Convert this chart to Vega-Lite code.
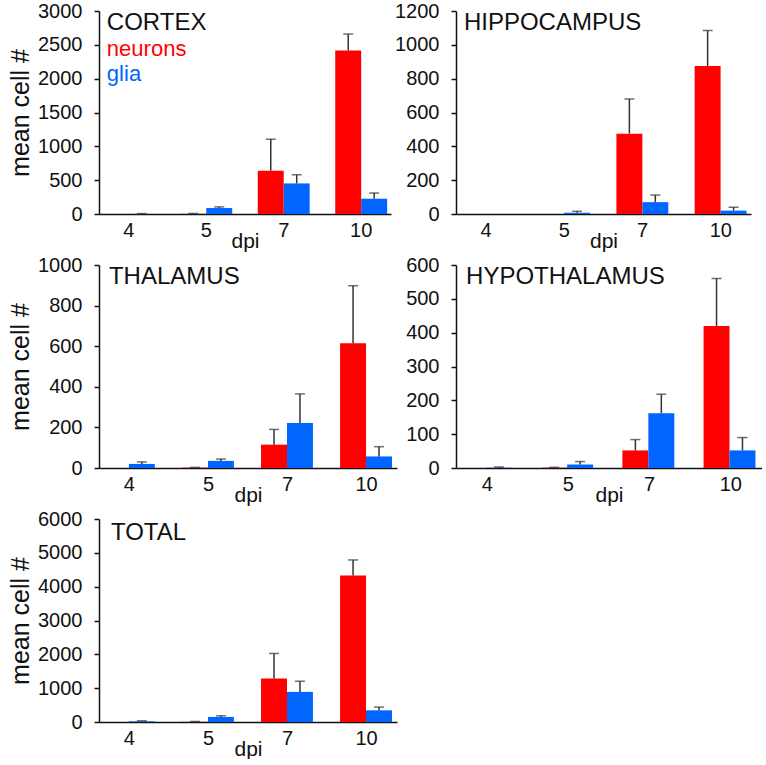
{
  "$schema": "https://vega.github.io/schema/vega-lite/v6.json",
  "padding": {"left": 8, "top": 1, "right": 0, "bottom": 0},
  "background": "white",
  "config": {
    "font": "Liberation Sans",
    "view": {"stroke": null},
    "axis": {
      "grid": false,
      "domainColor": "#111",
      "domainWidth": 1.5,
      "tickColor": "#111",
      "tickWidth": 1.5,
      "labelColor": "#111",
      "titleColor": "#111",
      "labelFont": "Liberation Sans",
      "titleFont": "Liberation Sans",
      "titleFontWeight": "normal"
    },
    "axisX": {"ticks": false, "labelAngle": 0, "labelFontSize": 20, "labelPadding": 6, "titleFontSize": 21, "titlePadding": -10},
    "axisY": {"tickSize": 5, "labelFontSize": 20, "labelPadding": 12, "titleFontSize": 25, "titlePadding": 4, "labelOverlap": false}
  },
  "datasets": {
    "cells": [
      {"region": "CORTEX", "dpi": "4", "cell": "neurons", "mean": 0, "upper": null},
      {"region": "CORTEX", "dpi": "4", "cell": "glia", "mean": 1, "upper": 6},
      {"region": "CORTEX", "dpi": "5", "cell": "neurons", "mean": 2, "upper": 8},
      {"region": "CORTEX", "dpi": "5", "cell": "glia", "mean": 88, "upper": 105},
      {"region": "CORTEX", "dpi": "7", "cell": "neurons", "mean": 640, "upper": 1105},
      {"region": "CORTEX", "dpi": "7", "cell": "glia", "mean": 452, "upper": 580},
      {"region": "CORTEX", "dpi": "10", "cell": "neurons", "mean": 2415, "upper": 2660},
      {"region": "CORTEX", "dpi": "10", "cell": "glia", "mean": 226, "upper": 310},
      {"region": "HIPPOCAMPUS", "dpi": "4", "cell": "neurons", "mean": 0, "upper": null},
      {"region": "HIPPOCAMPUS", "dpi": "4", "cell": "glia", "mean": 0, "upper": null},
      {"region": "HIPPOCAMPUS", "dpi": "5", "cell": "neurons", "mean": 0, "upper": null},
      {"region": "HIPPOCAMPUS", "dpi": "5", "cell": "glia", "mean": 8, "upper": 16},
      {"region": "HIPPOCAMPUS", "dpi": "7", "cell": "neurons", "mean": 475, "upper": 680},
      {"region": "HIPPOCAMPUS", "dpi": "7", "cell": "glia", "mean": 70, "upper": 112},
      {"region": "HIPPOCAMPUS", "dpi": "10", "cell": "neurons", "mean": 875, "upper": 1085},
      {"region": "HIPPOCAMPUS", "dpi": "10", "cell": "glia", "mean": 20, "upper": 40},
      {"region": "THALAMUS", "dpi": "4", "cell": "neurons", "mean": 0, "upper": null},
      {"region": "THALAMUS", "dpi": "4", "cell": "glia", "mean": 20, "upper": 30},
      {"region": "THALAMUS", "dpi": "5", "cell": "neurons", "mean": 2, "upper": 3},
      {"region": "THALAMUS", "dpi": "5", "cell": "glia", "mean": 35, "upper": 44},
      {"region": "THALAMUS", "dpi": "7", "cell": "neurons", "mean": 115, "upper": 190},
      {"region": "THALAMUS", "dpi": "7", "cell": "glia", "mean": 222, "upper": 365},
      {"region": "THALAMUS", "dpi": "10", "cell": "neurons", "mean": 615, "upper": 898},
      {"region": "THALAMUS", "dpi": "10", "cell": "glia", "mean": 57, "upper": 105},
      {"region": "HYPOTHALAMUS", "dpi": "4", "cell": "neurons", "mean": 0, "upper": null},
      {"region": "HYPOTHALAMUS", "dpi": "4", "cell": "glia", "mean": 1, "upper": 3},
      {"region": "HYPOTHALAMUS", "dpi": "5", "cell": "neurons", "mean": 1, "upper": 2},
      {"region": "HYPOTHALAMUS", "dpi": "5", "cell": "glia", "mean": 10, "upper": 19},
      {"region": "HYPOTHALAMUS", "dpi": "7", "cell": "neurons", "mean": 52, "upper": 84},
      {"region": "HYPOTHALAMUS", "dpi": "7", "cell": "glia", "mean": 162, "upper": 218},
      {"region": "HYPOTHALAMUS", "dpi": "10", "cell": "neurons", "mean": 420, "upper": 560},
      {"region": "HYPOTHALAMUS", "dpi": "10", "cell": "glia", "mean": 52, "upper": 90},
      {"region": "TOTAL", "dpi": "4", "cell": "neurons", "mean": 0, "upper": null},
      {"region": "TOTAL", "dpi": "4", "cell": "glia", "mean": 20, "upper": 35},
      {"region": "TOTAL", "dpi": "5", "cell": "neurons", "mean": 5, "upper": 15},
      {"region": "TOTAL", "dpi": "5", "cell": "glia", "mean": 150, "upper": 185},
      {"region": "TOTAL", "dpi": "7", "cell": "neurons", "mean": 1285, "upper": 2025},
      {"region": "TOTAL", "dpi": "7", "cell": "glia", "mean": 890, "upper": 1205},
      {"region": "TOTAL", "dpi": "10", "cell": "neurons", "mean": 4330, "upper": 4790},
      {"region": "TOTAL", "dpi": "10", "cell": "glia", "mean": 345, "upper": 440}
    ]
  },
  "columns": 2,
  "spacing": {"row": 4, "column": -3},
  "align": "each",
  "resolve": {"scale": {"x": "independent", "y": "independent"}},
  "concat": [
    {
      "width": 292, "height": 203,
      "layer": [
        {
          "data": {"name": "cells"},
          "transform": [{"filter": "datum.region === 'CORTEX'"}],
          "mark": {"type": "bar"},
          "encoding": {
            "x": {"field": "dpi", "type": "ordinal", "title": "dpi", "scale": {"domain": ["4", "5", "7", "10"], "paddingInner": 0.33, "paddingOuter": 0.05}},
            "xOffset": {"field": "cell", "sort": ["neurons", "glia"]},
            "y": {"field": "mean", "type": "quantitative", "scale": {"domain": [0, 3000]}, "axis": {"values": [0, 500, 1000, 1500, 2000, 2500, 3000], "format": "d", "title": "mean cell #"}},
            "color": {"field": "cell", "scale": {"domain": ["neurons", "glia"], "range": ["#ff0000", "#0066ff"]}, "legend": null}
          }
        },
        {
          "data": {"name": "cells"},
          "transform": [{"filter": "datum.region === 'CORTEX'"}],
          "mark": {"type": "rule", "color": "#333", "strokeWidth": 1.5},
          "encoding": {
            "x": {"field": "dpi", "type": "ordinal", "title": "dpi"},
            "xOffset": {"field": "cell", "sort": ["neurons", "glia"]},
            "y": {"field": "mean", "type": "quantitative", "axis": {"values": [0, 500, 1000, 1500, 2000, 2500, 3000], "format": "d", "title": "mean cell #"}},
            "y2": {"field": "upper"}
          }
        },
        {
          "data": {"name": "cells"},
          "transform": [{"filter": "datum.region === 'CORTEX'"}],
          "mark": {"type": "tick", "color": "#333", "thickness": 1.5, "size": 10, "orient": "horizontal"},
          "encoding": {
            "x": {"field": "dpi", "type": "ordinal", "title": "dpi"},
            "xOffset": {"field": "cell", "sort": ["neurons", "glia"]},
            "y": {"field": "upper", "type": "quantitative", "axis": {"values": [0, 500, 1000, 1500, 2000, 2500, 3000], "format": "d", "title": "mean cell #"}}
          }
        },
        {
          "data": {"values": [{"label": "CORTEX"}]},
          "mark": {"type": "text", "align": "left", "baseline": "alphabetic", "fontSize": 24, "dx": 4, "dy": 19, "color": "#111"},
          "encoding": {"x": {"datum": "4", "type": "ordinal", "bandPosition": 0, "title": "dpi"}, "y": {"datum": 3000, "type": "quantitative", "axis": {"values": [0, 500, 1000, 1500, 2000, 2500, 3000], "format": "d", "title": "mean cell #"}}, "text": {"field": "label"}}
        },
        {
          "data": {"values": [{"label": "neurons"}]},
          "mark": {"type": "text", "align": "left", "baseline": "alphabetic", "fontSize": 22, "dx": 4, "dy": 45, "color": "#ff0000"},
          "encoding": {"x": {"datum": "4", "type": "ordinal", "bandPosition": 0, "title": "dpi"}, "y": {"datum": 3000, "type": "quantitative", "axis": {"values": [0, 500, 1000, 1500, 2000, 2500, 3000], "format": "d", "title": "mean cell #"}}, "text": {"field": "label"}}
        },
        {
          "data": {"values": [{"label": "glia"}]},
          "mark": {"type": "text", "align": "left", "baseline": "alphabetic", "fontSize": 22, "dx": 4, "dy": 70, "color": "#0066ff"},
          "encoding": {"x": {"datum": "4", "type": "ordinal", "bandPosition": 0, "title": "dpi"}, "y": {"datum": 3000, "type": "quantitative", "axis": {"values": [0, 500, 1000, 1500, 2000, 2500, 3000], "format": "d", "title": "mean cell #"}}, "text": {"field": "label"}}
        }
      ]
    },
    {
      "width": 295, "height": 203,
      "layer": [
        {
          "data": {"name": "cells"},
          "transform": [{"filter": "datum.region === 'HIPPOCAMPUS'"}],
          "mark": {"type": "bar"},
          "encoding": {
            "x": {"field": "dpi", "type": "ordinal", "title": "dpi", "scale": {"domain": ["4", "5", "7", "10"], "paddingInner": 0.33, "paddingOuter": 0.05}},
            "xOffset": {"field": "cell", "sort": ["neurons", "glia"]},
            "y": {"field": "mean", "type": "quantitative", "scale": {"domain": [0, 1200]}, "axis": {"values": [0, 200, 400, 600, 800, 1000, 1200], "format": "d", "title": null}},
            "color": {"field": "cell", "scale": {"domain": ["neurons", "glia"], "range": ["#ff0000", "#0066ff"]}, "legend": null}
          }
        },
        {
          "data": {"name": "cells"},
          "transform": [{"filter": "datum.region === 'HIPPOCAMPUS'"}],
          "mark": {"type": "rule", "color": "#333", "strokeWidth": 1.5},
          "encoding": {
            "x": {"field": "dpi", "type": "ordinal", "title": "dpi"},
            "xOffset": {"field": "cell", "sort": ["neurons", "glia"]},
            "y": {"field": "mean", "type": "quantitative", "axis": {"values": [0, 200, 400, 600, 800, 1000, 1200], "format": "d", "title": null}},
            "y2": {"field": "upper"}
          }
        },
        {
          "data": {"name": "cells"},
          "transform": [{"filter": "datum.region === 'HIPPOCAMPUS'"}],
          "mark": {"type": "tick", "color": "#333", "thickness": 1.5, "size": 10, "orient": "horizontal"},
          "encoding": {
            "x": {"field": "dpi", "type": "ordinal", "title": "dpi"},
            "xOffset": {"field": "cell", "sort": ["neurons", "glia"]},
            "y": {"field": "upper", "type": "quantitative", "axis": {"values": [0, 200, 400, 600, 800, 1000, 1200], "format": "d", "title": null}}
          }
        },
        {
          "data": {"values": [{"label": "HIPPOCAMPUS"}]},
          "mark": {"type": "text", "align": "left", "baseline": "alphabetic", "fontSize": 24, "dx": 4, "dy": 19, "color": "#111"},
          "encoding": {"x": {"datum": "4", "type": "ordinal", "bandPosition": 0, "title": "dpi"}, "y": {"datum": 1200, "type": "quantitative", "axis": {"values": [0, 200, 400, 600, 800, 1000, 1200], "format": "d", "title": null}}, "text": {"field": "label"}}
        }
      ]
    },
    {
      "width": 298, "height": 203,
      "layer": [
        {
          "data": {"name": "cells"},
          "transform": [{"filter": "datum.region === 'THALAMUS'"}],
          "mark": {"type": "bar"},
          "encoding": {
            "x": {"field": "dpi", "type": "ordinal", "title": "dpi", "scale": {"domain": ["4", "5", "7", "10"], "paddingInner": 0.33, "paddingOuter": 0.05}},
            "xOffset": {"field": "cell", "sort": ["neurons", "glia"]},
            "y": {"field": "mean", "type": "quantitative", "scale": {"domain": [0, 1000]}, "axis": {"values": [0, 200, 400, 600, 800, 1000], "format": "d", "title": "mean cell #"}},
            "color": {"field": "cell", "scale": {"domain": ["neurons", "glia"], "range": ["#ff0000", "#0066ff"]}, "legend": null}
          }
        },
        {
          "data": {"name": "cells"},
          "transform": [{"filter": "datum.region === 'THALAMUS'"}],
          "mark": {"type": "rule", "color": "#333", "strokeWidth": 1.5},
          "encoding": {
            "x": {"field": "dpi", "type": "ordinal", "title": "dpi"},
            "xOffset": {"field": "cell", "sort": ["neurons", "glia"]},
            "y": {"field": "mean", "type": "quantitative", "axis": {"values": [0, 200, 400, 600, 800, 1000], "format": "d", "title": "mean cell #"}},
            "y2": {"field": "upper"}
          }
        },
        {
          "data": {"name": "cells"},
          "transform": [{"filter": "datum.region === 'THALAMUS'"}],
          "mark": {"type": "tick", "color": "#333", "thickness": 1.5, "size": 10, "orient": "horizontal"},
          "encoding": {
            "x": {"field": "dpi", "type": "ordinal", "title": "dpi"},
            "xOffset": {"field": "cell", "sort": ["neurons", "glia"]},
            "y": {"field": "upper", "type": "quantitative", "axis": {"values": [0, 200, 400, 600, 800, 1000], "format": "d", "title": "mean cell #"}}
          }
        },
        {
          "data": {"values": [{"label": "THALAMUS"}]},
          "mark": {"type": "text", "align": "left", "baseline": "alphabetic", "fontSize": 24, "dx": 6, "dy": 19, "color": "#111"},
          "encoding": {"x": {"datum": "4", "type": "ordinal", "bandPosition": 0, "title": "dpi"}, "y": {"datum": 1000, "type": "quantitative", "axis": {"values": [0, 200, 400, 600, 800, 1000], "format": "d", "title": "mean cell #"}}, "text": {"field": "label"}}
        }
      ]
    },
    {
      "width": 306, "height": 203,
      "layer": [
        {
          "data": {"name": "cells"},
          "transform": [{"filter": "datum.region === 'HYPOTHALAMUS'"}],
          "mark": {"type": "bar"},
          "encoding": {
            "x": {"field": "dpi", "type": "ordinal", "title": "dpi", "scale": {"domain": ["4", "5", "7", "10"], "paddingInner": 0.33, "paddingOuter": 0.05}},
            "xOffset": {"field": "cell", "sort": ["neurons", "glia"]},
            "y": {"field": "mean", "type": "quantitative", "scale": {"domain": [0, 600]}, "axis": {"values": [0, 100, 200, 300, 400, 500, 600], "format": "d", "title": null}},
            "color": {"field": "cell", "scale": {"domain": ["neurons", "glia"], "range": ["#ff0000", "#0066ff"]}, "legend": null}
          }
        },
        {
          "data": {"name": "cells"},
          "transform": [{"filter": "datum.region === 'HYPOTHALAMUS'"}],
          "mark": {"type": "rule", "color": "#333", "strokeWidth": 1.5},
          "encoding": {
            "x": {"field": "dpi", "type": "ordinal", "title": "dpi"},
            "xOffset": {"field": "cell", "sort": ["neurons", "glia"]},
            "y": {"field": "mean", "type": "quantitative", "axis": {"values": [0, 100, 200, 300, 400, 500, 600], "format": "d", "title": null}},
            "y2": {"field": "upper"}
          }
        },
        {
          "data": {"name": "cells"},
          "transform": [{"filter": "datum.region === 'HYPOTHALAMUS'"}],
          "mark": {"type": "tick", "color": "#333", "thickness": 1.5, "size": 10, "orient": "horizontal"},
          "encoding": {
            "x": {"field": "dpi", "type": "ordinal", "title": "dpi"},
            "xOffset": {"field": "cell", "sort": ["neurons", "glia"]},
            "y": {"field": "upper", "type": "quantitative", "axis": {"values": [0, 100, 200, 300, 400, 500, 600], "format": "d", "title": null}}
          }
        },
        {
          "data": {"values": [{"label": "HYPOTHALAMUS"}]},
          "mark": {"type": "text", "align": "left", "baseline": "alphabetic", "fontSize": 24, "dx": 6, "dy": 19, "color": "#111"},
          "encoding": {"x": {"datum": "4", "type": "ordinal", "bandPosition": 0, "title": "dpi"}, "y": {"datum": 600, "type": "quantitative", "axis": {"values": [0, 100, 200, 300, 400, 500, 600], "format": "d", "title": null}}, "text": {"field": "label"}}
        }
      ]
    },
    {
      "width": 298, "height": 203,
      "layer": [
        {
          "data": {"name": "cells"},
          "transform": [{"filter": "datum.region === 'TOTAL'"}],
          "mark": {"type": "bar"},
          "encoding": {
            "x": {"field": "dpi", "type": "ordinal", "title": "dpi", "scale": {"domain": ["4", "5", "7", "10"], "paddingInner": 0.33, "paddingOuter": 0.05}},
            "xOffset": {"field": "cell", "sort": ["neurons", "glia"]},
            "y": {"field": "mean", "type": "quantitative", "scale": {"domain": [0, 6000]}, "axis": {"values": [0, 1000, 2000, 3000, 4000, 5000, 6000], "format": "d", "title": "mean cell #"}},
            "color": {"field": "cell", "scale": {"domain": ["neurons", "glia"], "range": ["#ff0000", "#0066ff"]}, "legend": null}
          }
        },
        {
          "data": {"name": "cells"},
          "transform": [{"filter": "datum.region === 'TOTAL'"}],
          "mark": {"type": "rule", "color": "#333", "strokeWidth": 1.5},
          "encoding": {
            "x": {"field": "dpi", "type": "ordinal", "title": "dpi"},
            "xOffset": {"field": "cell", "sort": ["neurons", "glia"]},
            "y": {"field": "mean", "type": "quantitative", "axis": {"values": [0, 1000, 2000, 3000, 4000, 5000, 6000], "format": "d", "title": "mean cell #"}},
            "y2": {"field": "upper"}
          }
        },
        {
          "data": {"name": "cells"},
          "transform": [{"filter": "datum.region === 'TOTAL'"}],
          "mark": {"type": "tick", "color": "#333", "thickness": 1.5, "size": 10, "orient": "horizontal"},
          "encoding": {
            "x": {"field": "dpi", "type": "ordinal", "title": "dpi"},
            "xOffset": {"field": "cell", "sort": ["neurons", "glia"]},
            "y": {"field": "upper", "type": "quantitative", "axis": {"values": [0, 1000, 2000, 3000, 4000, 5000, 6000], "format": "d", "title": "mean cell #"}}
          }
        },
        {
          "data": {"values": [{"label": "TOTAL"}]},
          "mark": {"type": "text", "align": "left", "baseline": "alphabetic", "fontSize": 24, "dx": 8, "dy": 21, "color": "#111"},
          "encoding": {"x": {"datum": "4", "type": "ordinal", "bandPosition": 0, "title": "dpi"}, "y": {"datum": 6000, "type": "quantitative", "axis": {"values": [0, 1000, 2000, 3000, 4000, 5000, 6000], "format": "d", "title": "mean cell #"}}, "text": {"field": "label"}}
        }
      ]
    }
  ]
}
